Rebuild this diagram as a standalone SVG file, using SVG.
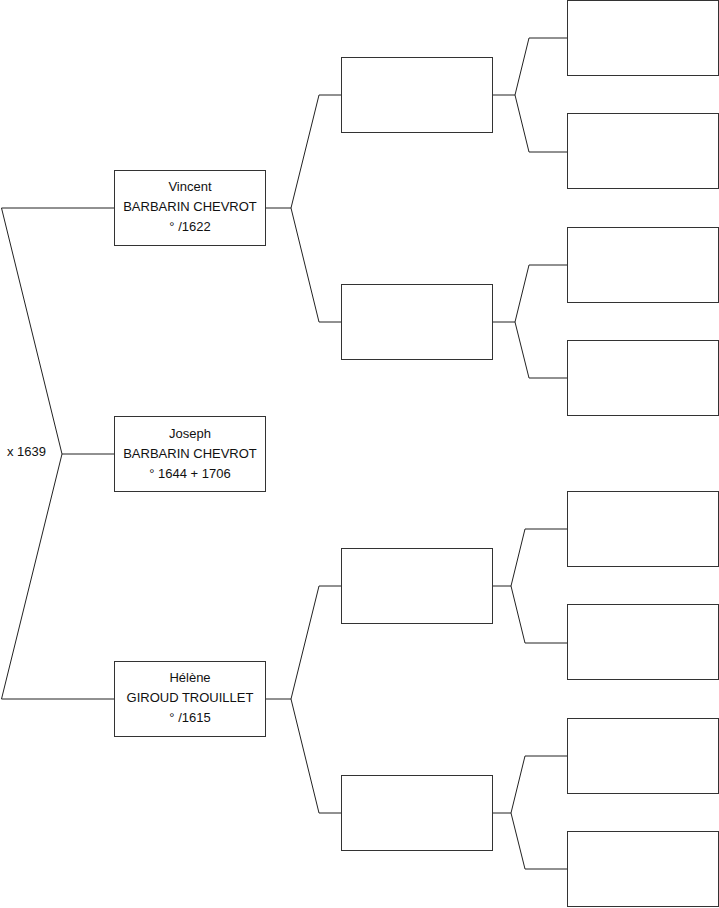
<svg xmlns="http://www.w3.org/2000/svg" width="719" height="908" viewBox="0 0 719 908">
<style>
.box{fill:#fff;stroke:#333;stroke-width:1}
.ln{fill:none;stroke:#222;stroke-width:1}
text{font-family:"Liberation Sans",Arial,sans-serif;font-size:13px;fill:#111;text-anchor:middle}
.lbl{text-anchor:start}
</style>
<rect width="719" height="908" fill="#fff"/>
<g id="connectors">
<polyline class="ln" points="114,208 1.5,208 62,454 1.5,699 114,699"/>
<line class="ln" x1="62" y1="454" x2="114" y2="454"/>
<polyline class="ln" points="265,208 291,208"/>
<polyline class="ln" points="341,95 319,95 291,208 319,322 341,322"/>
<polyline class="ln" points="265,699 291,699"/>
<polyline class="ln" points="341,586 319,586 291,699 319,813 341,813"/>
<polyline class="ln" points="492,95 515,95"/>
<polyline class="ln" points="567,38 529,38 515,95 529,152 567,152"/>
<polyline class="ln" points="492,322 515,322"/>
<polyline class="ln" points="567,265 529,265 515,322 529,378 567,378"/>
<polyline class="ln" points="492,586 511,586"/>
<polyline class="ln" points="567,529 525,529 511,586 525,643 567,643"/>
<polyline class="ln" points="492,813 511,813"/>
<polyline class="ln" points="567,756 525,756 511,813 525,869 567,869"/>
</g>
<g id="marriage"><text class="lbl" x="7" y="456">x 1639</text></g>
<g id="vincent"><rect class="box" x="114.5" y="170.5" width="151" height="75"/>
<text x="190" y="191">Vincent</text><text x="190" y="211">BARBARIN CHEVROT</text><text x="190" y="231">° /1622</text></g>
<g id="joseph"><rect class="box" x="114.5" y="416.5" width="151" height="75"/>
<text x="190" y="438">Joseph</text><text x="190" y="458">BARBARIN CHEVROT</text><text x="190" y="478">° 1644 + 1706</text></g>
<g id="helene"><rect class="box" x="114.5" y="661.5" width="151" height="75"/>
<text x="190" y="682">Hélène</text><text x="190" y="702">GIROUD TROUILLET</text><text x="190" y="722">° /1615</text></g>
<g id="g2a"><rect class="box" x="341.5" y="57.5" width="151" height="75"/></g>
<g id="g2b"><rect class="box" x="341.5" y="284.5" width="151" height="75"/></g>
<g id="g2c"><rect class="box" x="341.5" y="548.5" width="151" height="75"/></g>
<g id="g2d"><rect class="box" x="341.5" y="775.5" width="151" height="75"/></g>
<g id="g3a"><rect class="box" x="567.5" y="0.5" width="151" height="75"/></g>
<g id="g3b"><rect class="box" x="567.5" y="113.5" width="151" height="75"/></g>
<g id="g3c"><rect class="box" x="567.5" y="227.5" width="151" height="75"/></g>
<g id="g3d"><rect class="box" x="567.5" y="340.5" width="151" height="75"/></g>
<g id="g3e"><rect class="box" x="567.5" y="491.5" width="151" height="75"/></g>
<g id="g3f"><rect class="box" x="567.5" y="604.5" width="151" height="75"/></g>
<g id="g3g"><rect class="box" x="567.5" y="718.5" width="151" height="75"/></g>
<g id="g3h"><rect class="box" x="567.5" y="831.5" width="151" height="75"/></g>
</svg>
